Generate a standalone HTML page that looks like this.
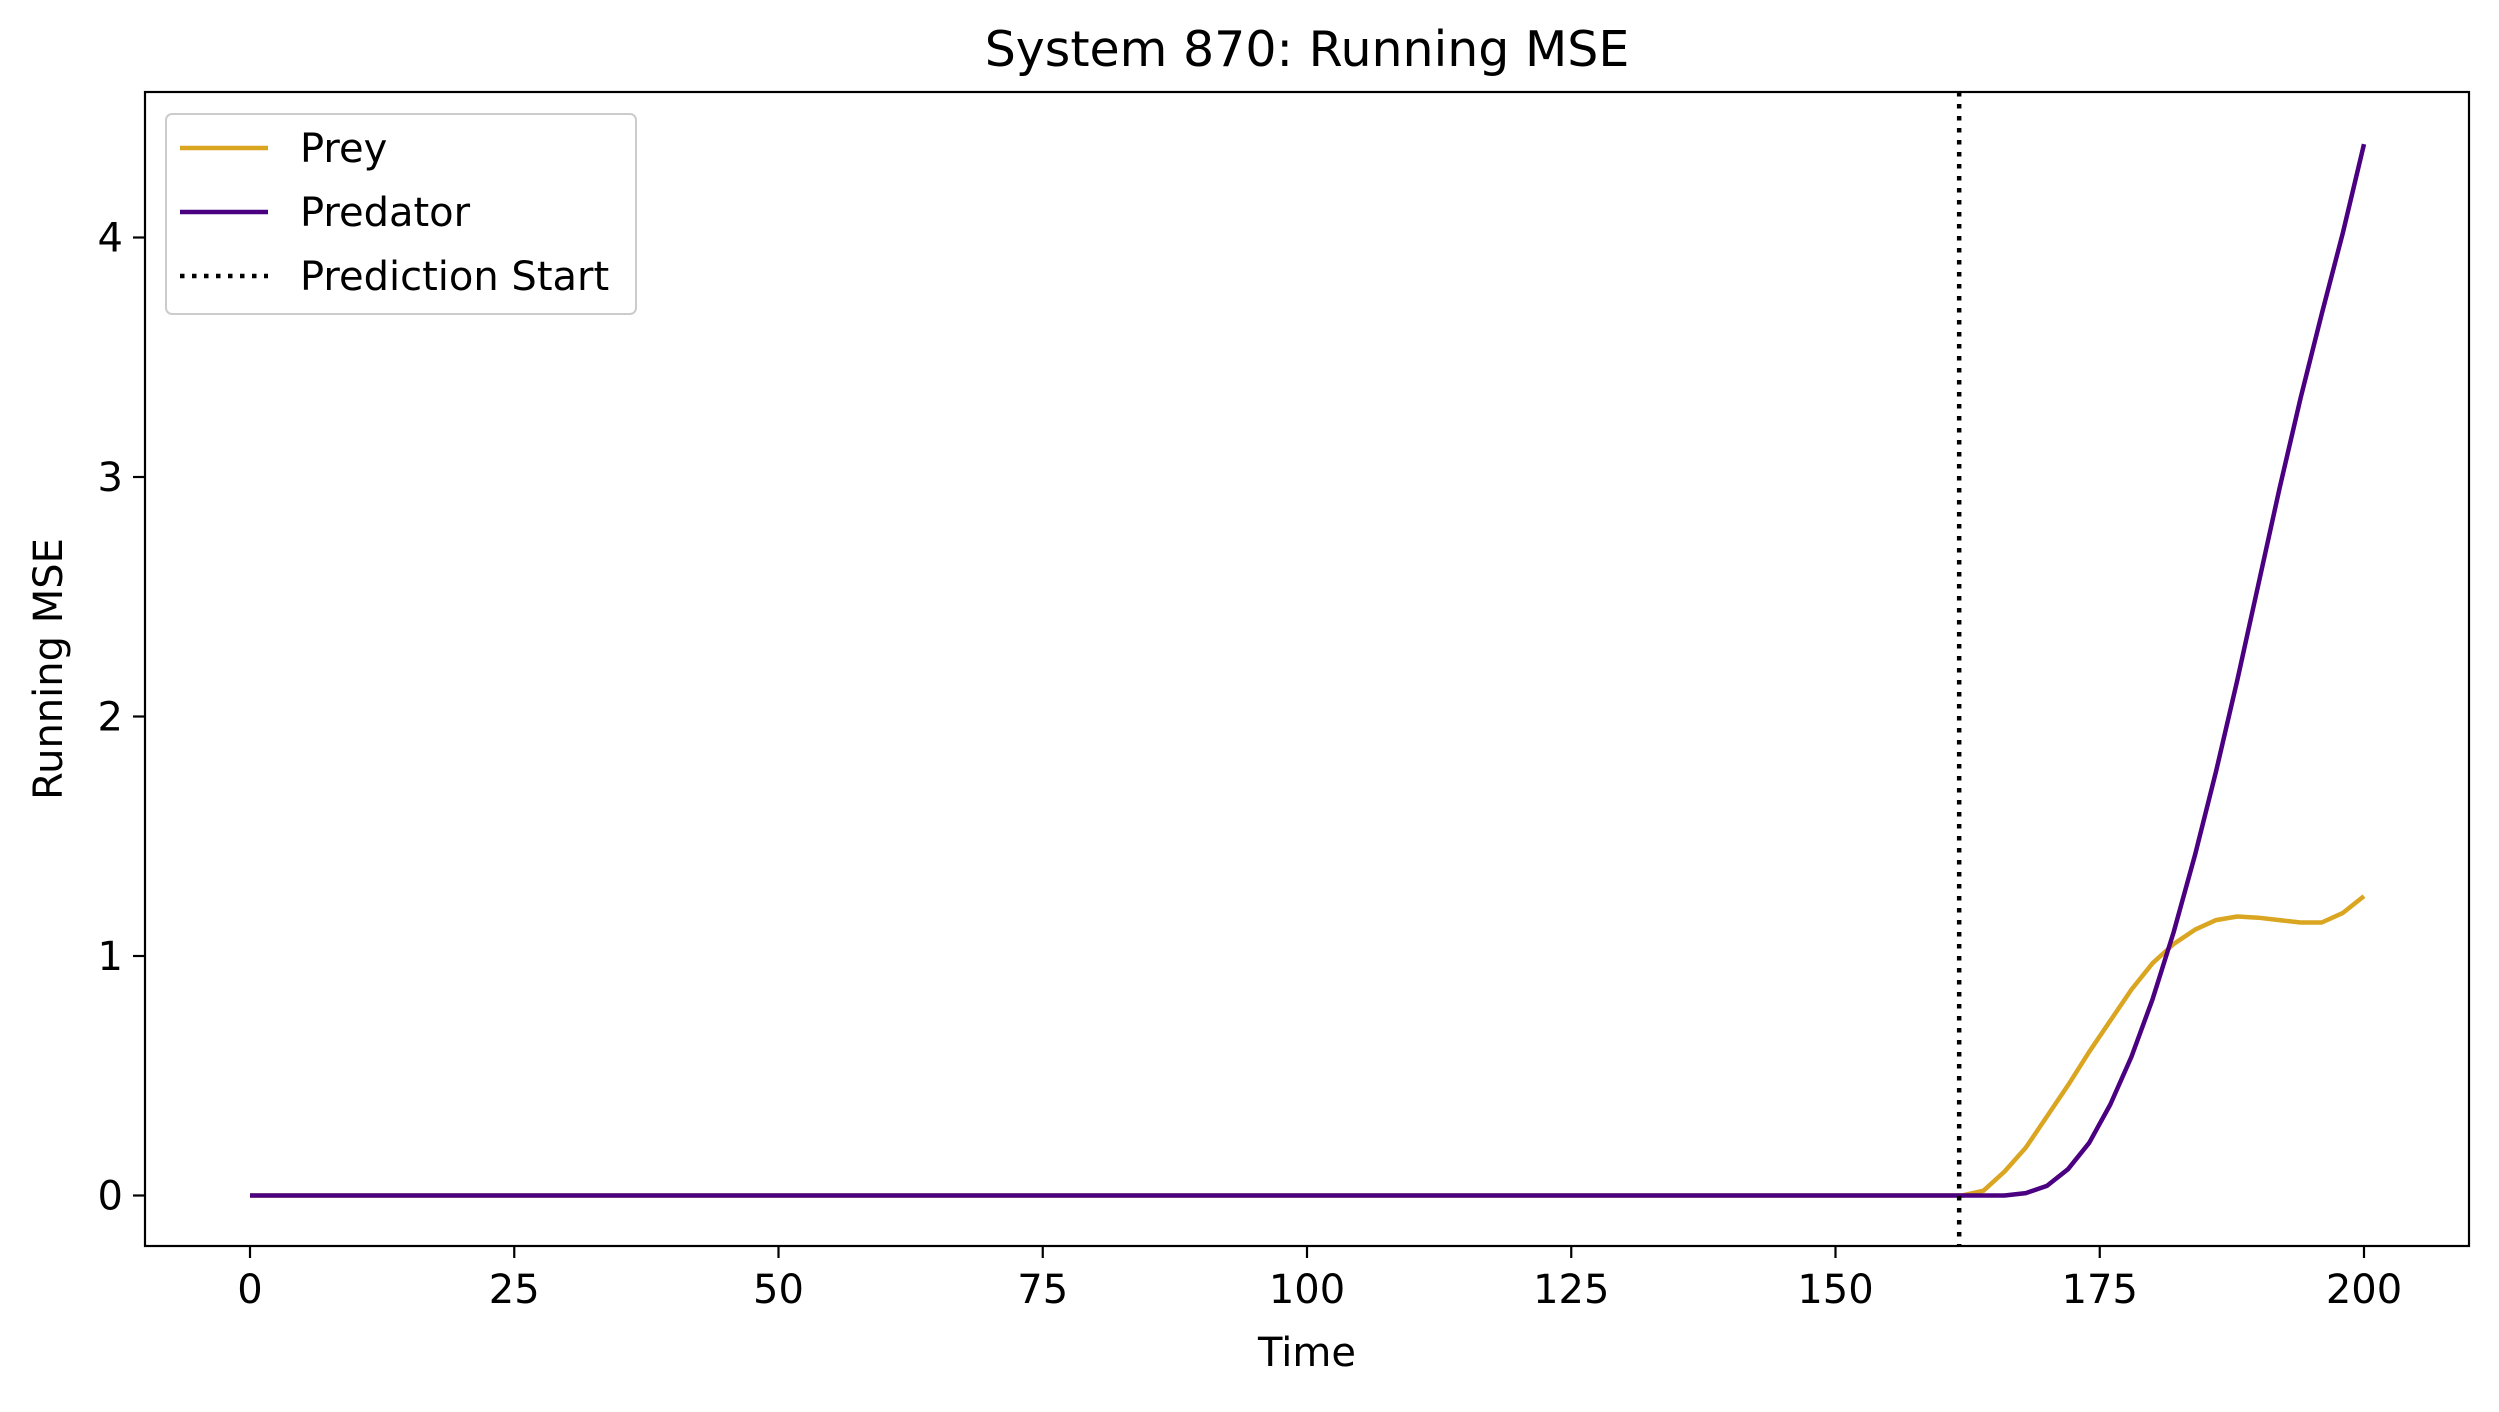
<!DOCTYPE html>
<html><head><meta charset="utf-8"><style>
body{margin:0;background:#fff;}
svg text{font-family:"DejaVu Sans","Liberation Sans",sans-serif;fill:#000;}
</style></head><body>
<svg id="chart" width="2499" height="1407" viewBox="0 0 2499 1407">
<rect x="0" y="0" width="2499" height="1407" fill="#fff"/>
<g id="plot"></g>
</svg>
<script>
const xTicks=[0,25,50,75,100,125,150,175,200];
const yTicks=[0,1,2,3,4];
const predStart=161.7;
const tailTimes=[162,164,166,168,170,172,174,176,178,180,182,184,186,188,190,192,194,196,198,200];
const preyTail=[0,0.02,0.1,0.2,0.33,0.46,0.6,0.73,0.86,0.97,1.05,1.11,1.15,1.165,1.16,1.15,1.14,1.14,1.18,1.25];
const predTail=[0,0,0,0.01,0.04,0.11,0.22,0.38,0.58,0.82,1.1,1.42,1.77,2.15,2.55,2.95,3.33,3.68,4.02,4.39];

const L=145,R=2469,T=92,B=1246;
const X=v=>250+(v-0)*(2364-250)/200;
const Y=v=>1195.5-v*239.5;
const NS="http://www.w3.org/2000/svg";
const g=document.getElementById('plot');
function el(t,a,txt){const e=document.createElementNS(NS,t);for(const k in a)e.setAttribute(k,a[k]);if(txt!==undefined)e.textContent=txt;g.appendChild(e);return e;}

const times=[],prey=[],pred=[];
for(let t=0;t<162;t+=2){times.push(t);prey.push(0);pred.push(0);}
tailTimes.forEach((t,i)=>{times.push(t);prey.push(preyTail[i]);pred.push(predTail[i]);});
function pts(arr){return times.map((t,i)=>X(t).toFixed(1)+','+Y(arr[i]).toFixed(1)).join(' ');}

let e;
e=el('polyline',{points:pts(prey),fill:'none',stroke:'#DAA520','stroke-width':4.5,'stroke-linejoin':'round'});


e=el('polyline',{points:pts(pred),fill:'none',stroke:'#4B0082','stroke-width':4.5,'stroke-linejoin':'round'});


e=el('line',{x1:X(predStart),x2:X(predStart),y1:T,y2:B,stroke:'#000','stroke-width':4.5,'stroke-dasharray':'4.5,7.5'});



e=el('rect',{x:L,y:T,width:R-L,height:B-T,fill:'none',stroke:'#000','stroke-width':2.2});



xTicks.forEach(v=>{
  e=el('line',{x1:X(v),x2:X(v),y1:B,y2:B+12,stroke:'#000','stroke-width':2.2});
  
  
  e=el('text',{x:X(v),y:B+57,'font-size':40,'text-anchor':'middle'},String(v));
  
  
});
yTicks.forEach(v=>{
  e=el('line',{x1:L-12,x2:L,y1:Y(v),y2:Y(v),stroke:'#000','stroke-width':2.2});
  
  
  e=el('text',{x:L-22,y:Y(v)+14,'font-size':40,'text-anchor':'end'},String(v));
  
  
});
e=el('text',{x:(L+R)/2,y:1366,'font-size':40,'text-anchor':'middle'},'Time');


e=el('text',{x:62,y:(T+B)/2,'font-size':40,'text-anchor':'middle',transform:`rotate(-90 62 ${(T+B)/2})`},'Running MSE');


e=el('text',{x:(L+R)/2,y:66,'font-size':49,'text-anchor':'middle'},'System 870: Running MSE');



e=el('rect',{x:166,y:114,width:470,height:200,rx:6,fill:'#fff',stroke:'#ccc','stroke-width':2});


const leg=[['Prey','#DAA520',null],['Predator','#4B0082',null],['Prediction Start','#000','4.5,7.5']];
leg.forEach((l,i)=>{
  const y=148+i*64;
  const a={x1:180,x2:268,y1:y,y2:y,stroke:l[1],'stroke-width':4.5};
  if(l[2])a['stroke-dasharray']=l[2];
  e=el('line',a);
  
  
  e=el('text',{x:300,y:y+14,'font-size':40},l[0]);
  
  
});
</script>
</body></html>
